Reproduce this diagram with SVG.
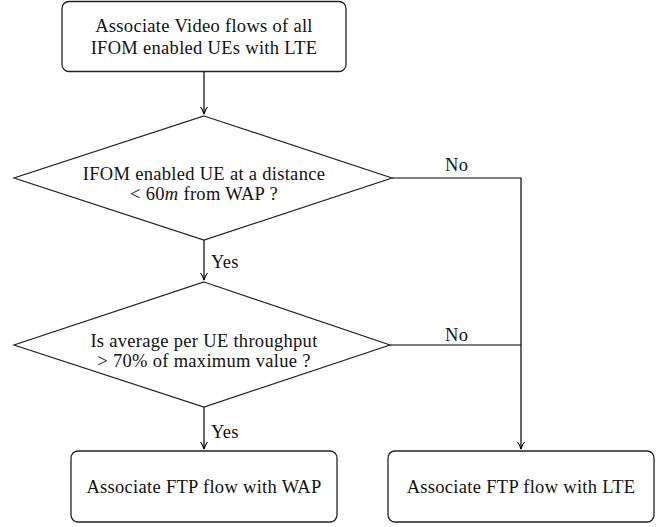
<svg xmlns="http://www.w3.org/2000/svg" width="663" height="527" viewBox="0 0 663 527">
<defs>
<marker id="arr" markerWidth="10" markerHeight="10" refX="8" refY="4" orient="auto" markerUnits="userSpaceOnUse">
<path d="M1,0.5 Q4,3 8,4 Q4,5 1,7.5" fill="none" stroke="#000" stroke-width="1.1"/>
</marker>
<style>
.box{fill:#fff;stroke:#222;stroke-width:1.3}
.dia{fill:#fff;stroke:#222;stroke-width:1.2}
text{font-family:'Liberation Serif','Times New Roman',serif;font-size:18.5px;fill:#111;letter-spacing:0.3px}
.t{text-anchor:middle}
.c{fill:none;stroke:#000;stroke-width:1.2}
</style>
</defs>
<rect width="663" height="527" fill="#fff"/>
<g id="connectors">
<path class="c" d="M204,72 V114" marker-end="url(#arr)"/>
<path class="c" d="M204,240 V280" marker-end="url(#arr)"/>
<path class="c" d="M204,407 V449" marker-end="url(#arr)"/>
<path class="c" d="M392,178 H521 V449" marker-end="url(#arr)"/>
<path class="c" d="M390,345 H521"/>
<text x="445" y="171">No</text>
<text x="445" y="341">No</text>
<text x="211" y="268">Yes</text>
<text x="211" y="438">Yes</text>
</g>
<g id="start">
<rect class="box" x="62" y="1.5" width="284" height="70" rx="7"/>
<text class="t" x="204" y="32">Associate Video flows of all</text>
<text class="t" x="204" y="54">IFOM enabled UEs with LTE</text>
</g>
<g id="decision1">
<polygon class="dia" points="204,116 392,178 204,240 14,178"/>
<text class="t" x="204" y="180">IFOM enabled UE at a distance</text>
<text class="t" x="204" y="200">&lt; 60<tspan font-style="italic">m</tspan> from WAP ?</text>
</g>
<g id="decision2">
<polygon class="dia" points="204,282 390,345 204,407 14,345"/>
<text class="t" x="204" y="347">Is average per UE throughput</text>
<text class="t" x="204" y="367">&gt; 70% of maximum value ?</text>
</g>
<g id="wap">
<rect class="box" x="71" y="451" width="266" height="71" rx="7"/>
<text class="t" x="204" y="493">Associate FTP flow with WAP</text>
</g>
<g id="lte">
<rect class="box" x="388" y="451" width="266" height="71" rx="7"/>
<text class="t" x="521" y="493">Associate FTP flow with LTE</text>
</g>
</svg>
